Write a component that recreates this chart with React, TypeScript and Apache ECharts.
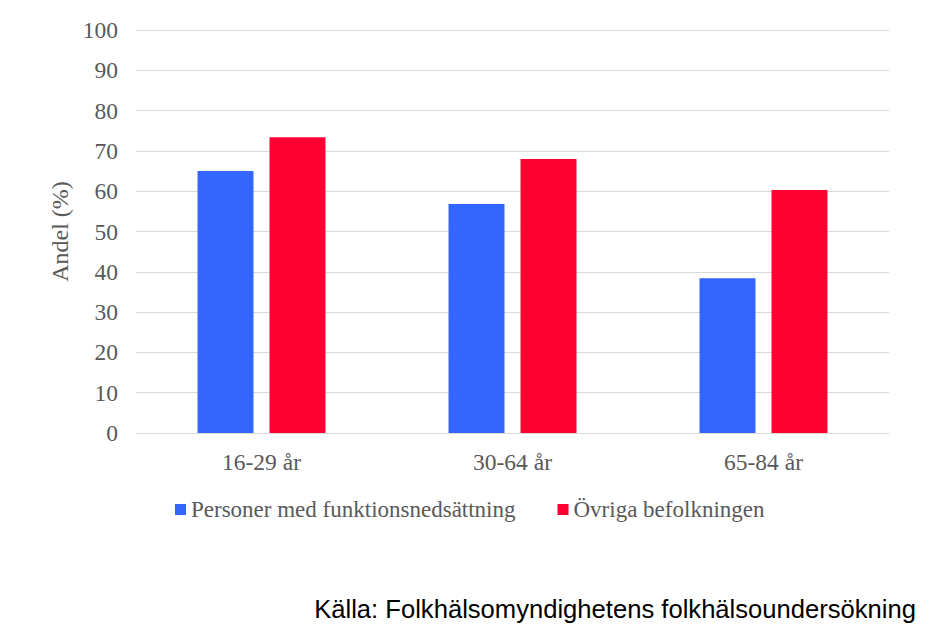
import React, { useEffect, useRef } from "react";
import * as echarts from "echarts";

const categories = ["16-29 år", "30-64 år", "65-84 år"];
const seriesNames = ["Personer med funktionsnedsättning", "Övriga befolkningen"];
const disabledValues = [65.0, 56.8, 38.4];
const otherValues = [73.4, 68.0, 60.3];
const yTicks = { min: 0, max: 100, interval: 10 };
const sourceText = "Källa: Folkhälsomyndighetens folkhälsoundersökning";

export default function App() {
  const ref = useRef<HTMLDivElement>(null);
  useEffect(() => {
    if (!ref.current) return;
    const chart = echarts.init(ref.current, undefined, { renderer: "svg" });
    const serif = "'Liberation Serif', 'Times New Roman', serif";
    chart.setOption({
      animation: false,
      backgroundColor: "#ffffff",
      grid: { left: 136, right: 49, top: 30, bottom: 198, containLabel: false },
      legend: {
        left: 170,
        top: 493,
        itemWidth: 11,
        itemHeight: 11,
        itemGap: 42,
        icon: "rect",
        textStyle: { fontFamily: serif, fontSize: 23, color: "#595959" },
        data: seriesNames,
      },
      xAxis: {
        type: "category",
        data: categories,
        axisLine: { show: true, lineStyle: { color: "#d9d9d9", width: 1 } },
        axisTick: { show: false },
        axisLabel: { fontFamily: serif, fontSize: 23.5, color: "#595959", margin: 17 },
      },
      yAxis: {
        type: "value",
        min: yTicks.min,
        max: yTicks.max,
        interval: yTicks.interval,
        name: "Andel (%)",
        nameLocation: "middle",
        nameRotate: 90,
        nameGap: 62,
        nameTextStyle: { fontFamily: serif, fontSize: 24, color: "#595959" },
        axisLine: { show: false },
        axisTick: { show: false },
        splitLine: { lineStyle: { color: "#d9d9d9", width: 1 } },
        axisLabel: { fontFamily: serif, fontSize: 23.5, color: "#595959", margin: 18 },
      },
      series: [
        {
          name: seriesNames[0],
          type: "bar",
          data: disabledValues,
          barWidth: "22.3%",
          barGap: "28.6%",
          itemStyle: { color: "#3366ff" },
        },
        {
          name: seriesNames[1],
          type: "bar",
          data: otherValues,
          barWidth: "22.3%",
          barGap: "28.6%",
          itemStyle: { color: "#ff0033" },
        },
      ],
      graphic: [
        {
          type: "text",
          right: 22,
          top: 596,
          style: {
            text: sourceText,
            fontFamily: "'Liberation Sans', Arial, sans-serif",
            fontSize: 25.6,
            fill: "#000000",
          },
        },
      ],
    });
    return () => chart.dispose();
  }, []);
  return (
    <div
      ref={ref}
      style={{ position: "fixed", left: 0, top: 0, width: 938, height: 631 }}
    />
  );
}
